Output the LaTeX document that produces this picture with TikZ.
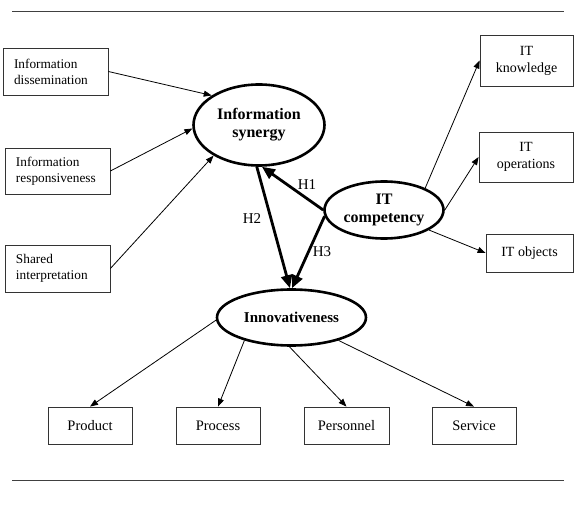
\documentclass[tikz,border=0pt]{standalone}
\usepackage{fontspec}
\setmainfont{Liberation Serif}
\usetikzlibrary{arrows.meta,shapes.geometric}
\begin{document}
\begin{tikzpicture}[x=1pt,y=-1pt,
  lbox/.style={draw=black!80,line width=0.8pt,rectangle,inner xsep=11pt,inner ysep=0pt,text width=83pt,align=left,minimum height=47pt,font=\fontsize{13.3}{16}\selectfont},
  cbox/.style={draw=black!80,line width=0.8pt,rectangle,inner sep=0pt,align=center,font=\fontsize{14}{17}\selectfont},
  bbox/.style={cbox,minimum width=84pt,minimum height=37pt,font=\fontsize{14.5}{17}\selectfont},
  construct/.style={draw,ellipse,line width=2.6pt,inner sep=0pt,align=center,font=\bfseries\fontsize{16}{18}\selectfont},
  conn/.style={line width=0.8pt,-{Triangle[length=8pt,width=6pt]}},
  hyp/.style={line width=2.8pt,-{Triangle[length=13pt,width=11pt]}},
  hlab/.style={font=\fontsize{15}{17}\selectfont,inner sep=0pt},
  rulestyle/.style={line width=1pt,black!75}
]
\useasboundingbox (0,0) rectangle (576,516);
% rules
\coordinate (t1) at (12,12); \coordinate (t2) at (564,12);
\coordinate (b1) at (12,480); \coordinate (b2) at (564,480);
\draw[rulestyle] (t1) -- (t2);
\draw[rulestyle] (b1) -- (b2);
% left boxes
\node[lbox] (diss) at (55.5,71.5) {Information\\dissemination};
\node[lbox,minimum height=46pt] (resp) at (57.5,171) {Information\\responsiveness};
\node[lbox] (shared) at (57.5,268.5) {Shared\\interpretation};
% right boxes
\node[cbox,minimum width=93pt,minimum height=51pt] (know) at (526.5,60.5) {IT\\knowledge};
\node[cbox,minimum width=94pt,minimum height=50pt] (oper) at (526,157) {IT\\operations};
\node[cbox,minimum width=87pt,minimum height=38pt] (objs) at (529.5,253) {IT objects};
% bottom boxes
\node[bbox] (prod) at (90,425.5) {Product};
\node[bbox] (proc) at (218,425.5) {Process};
\node[bbox,minimum width=85pt] (pers) at (346.5,425.5) {Personnel};
\node[bbox] (serv) at (474,425.5) {Service};
% constructs
\node[construct,minimum width=131pt,minimum height=81pt] (syn) at (259,125) {Information\\synergy};
\node[construct,minimum width=119pt,minimum height=57pt] (itc) at (384,210) {IT\\competency};
\node[construct,minimum width=149pt,minimum height=56pt,font=\bfseries\fontsize{15}{18}\selectfont] (inn) at (291.5,317.5) {Innovativeness};
% indicator arrows
\draw[conn] (diss.east) -- (syn.148);
\draw[conn] (resp.east) -- (syn.183);
\draw[conn] (shared.east) -- (syn.214);
\draw[conn] (itc.28) -- (know.west);
\draw[conn] (itc.0) -- (oper.west);
\draw[conn] (itc.336) -- (objs.west);
\draw[conn] (inn.182) -- (prod.north);
\draw[conn] (inn.206) -- (proc.north);
\draw[conn] (inn.266) -- (pers.north);
\draw[conn] (inn.334) -- (serv.north);
% hypotheses
\draw[hyp] (itc.180) -- (syn.274);
\draw[hyp] (syn.267) -- (inn.93);
\draw[hyp] (itc.186) -- (inn.89);
\node[hlab] (h1) at (307,185) {H1};
\node[hlab] (h2) at (252,219) {H2};
\node[hlab] (h3) at (322,252) {H3};
\end{tikzpicture}
\end{document}
